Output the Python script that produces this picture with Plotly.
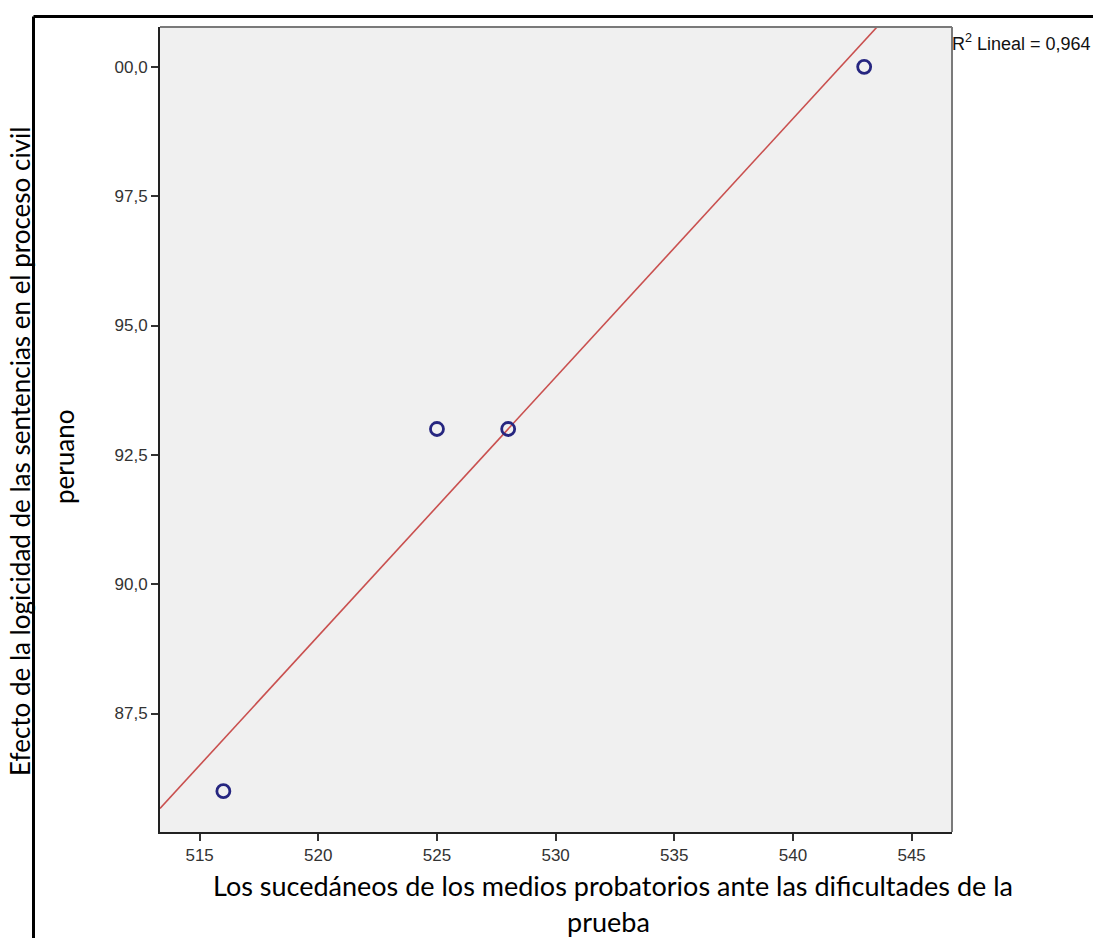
import numpy as np
import plotly.graph_objects as go

# Data
x_vals = [516, 525, 528, 543]
y_vals = [86, 93, 93, 100]
r2_text = "R<sup>2</sup> Lineal = 0,964"

x_tickvals = [515, 520, 525, 530, 535, 540, 545]
x_ticktext = ["515", "520", "525", "530", "535", "540", "545"]
y_tickvals = [87.5, 90.0, 92.5, 95.0, 97.5, 100.0]
y_ticktext = ["87,5", "90,0", "92,5", "95,0", "97,5", "00,0"]

x_title_1 = "Los sucedáneos de los medios probatorios ante las dificultades de la"
x_title_2 = "prueba"
y_title_1 = "Efecto de la logicidad de las sentencias en el proceso civil"
y_title_2 = "peruano"

x_range = [513.33, 546.7]
y_range = [85.21, 100.77]

# Linear fit
slope, intercept = np.polyfit(x_vals, y_vals, 1)
fit_x = np.array(x_range)
fit_y = slope * fit_x + intercept

W, H = 1093, 938
L, R, T, B = 160, 141, 27, 106
pw, ph = W - L - R, H - T - B


def px(xp):
    return (xp - L) / pw


def py(yp):
    return (H - B - yp) / ph


fig = go.Figure()
fig.add_trace(go.Scatter(
    x=fit_x, y=fit_y, mode="lines",
    line=dict(color="#c9504f", width=1.6),
    hoverinfo="skip", showlegend=False,
))
fig.add_trace(go.Scatter(
    x=x_vals, y=y_vals, mode="markers",
    marker=dict(symbol="circle-open", size=13, color="#262680",
                line=dict(width=2.8, color="#262680")),
    showlegend=False,
))

tickfont = dict(family="Liberation Sans, Arial, sans-serif", size=17, color="#333333")
fig.update_xaxes(
    range=x_range, tickvals=x_tickvals, ticktext=x_ticktext,
    showgrid=False, zeroline=False, showline=True, linecolor="#222222", linewidth=2,
    ticks="outside", ticklen=7, tickwidth=2, tickcolor="#333333",
    tickfont=tickfont, mirror=False,
)
fig.update_yaxes(
    range=y_range, tickvals=y_tickvals, ticktext=y_ticktext,
    showgrid=False, zeroline=False, showline=True, linecolor="#222222", linewidth=2,
    ticks="outside", ticklen=7, tickwidth=2, tickcolor="#333333",
    tickfont=tickfont, mirror=False,
)

xtitlefont = dict(family="Lato, 'Open Sans', sans-serif", size=27, color="#000000")
ytitlefont = dict(family="Lato, 'Open Sans', sans-serif", size=26, color="#000000")
annotations = [
    dict(text=r2_text, xref="paper", yref="paper", x=px(950), y=py(43),
         xanchor="left", yanchor="middle", showarrow=False,
         font=dict(family="Liberation Sans, Arial, sans-serif", size=18, color="#111111")),
    dict(text=x_title_1, xref="paper", yref="paper", x=px(613), y=py(885),
         xanchor="center", yanchor="middle", showarrow=False, font=xtitlefont),
    dict(text=x_title_2, xref="paper", yref="paper", x=px(608), y=py(921),
         xanchor="center", yanchor="middle", showarrow=False, font=xtitlefont),
    dict(text=y_title_1, xref="paper", yref="paper", x=px(20), y=py(452),
         xanchor="center", yanchor="middle", showarrow=False, textangle=-90, font=ytitlefont),
    dict(text=y_title_2, xref="paper", yref="paper", x=px(64), y=py(457),
         xanchor="center", yanchor="middle", showarrow=False, textangle=-90, font=ytitlefont),
]

shapes = [
    # gray plot border (top/right)
    dict(type="line", xref="paper", yref="paper", x0=0, x1=1, y0=1, y1=1,
         line=dict(color="#7a7a7a", width=2)),
    dict(type="line", xref="paper", yref="paper", x0=1, x1=1, y0=0, y1=1,
         line=dict(color="#7a7a7a", width=2)),
    # outer black frame
    dict(type="line", xref="paper", yref="paper", x0=px(33.5), x1=px(1100), y0=py(16.5), y1=py(16.5),
         line=dict(color="#000000", width=3)),
    dict(type="line", xref="paper", yref="paper", x0=px(33.5), x1=px(33.5), y0=py(16.5), y1=py(945),
         line=dict(color="#000000", width=3)),
]

fig.update_layout(
    width=W, height=H,
    margin=dict(l=L, r=R, t=T, b=B, pad=0),
    plot_bgcolor="#f0f0f0", paper_bgcolor="#ffffff",
    annotations=annotations, shapes=shapes,
)

fig.write_html("out.html", config={"displayModeBar": False},
               post_script="document.body.style.margin='0';")
